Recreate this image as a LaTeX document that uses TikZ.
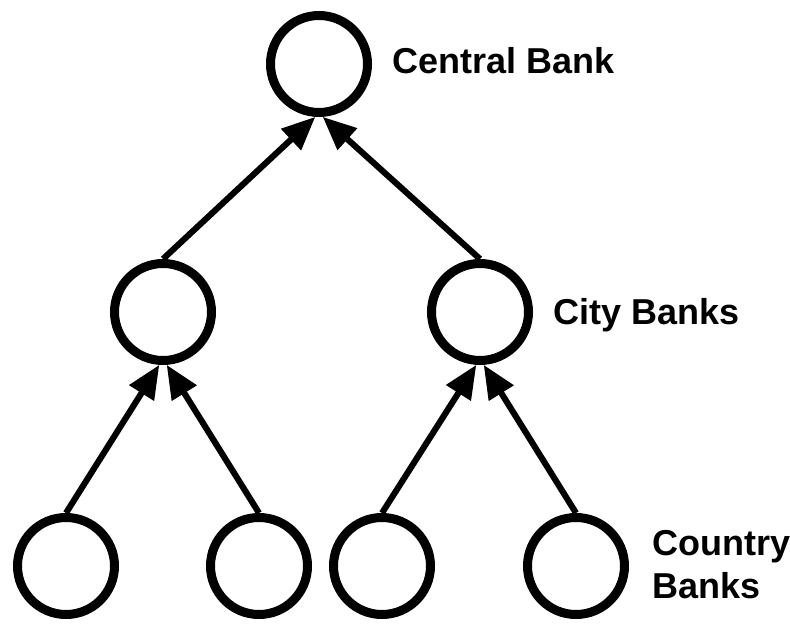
\documentclass[tikz,border=0pt]{standalone}
\usepackage{fontspec}
\setmainfont{Liberation Sans}
\usetikzlibrary{arrows.meta}
\tikzset{
  bank/.style={circle, draw=black, fill=white, line width=6.75pt, minimum size=72.75pt, inner sep=0pt},
  link/.style={line width=4.6pt, -{Triangle[length=25pt,width=21pt]}},
  lbl/.style={font=\fontsize{27pt}{32.25pt}\selectfont\bfseries, inner sep=0pt, anchor=base west, align=left}
}
\begin{document}
\begin{tikzpicture}[x=0.75pt,y=-0.75pt]
\useasboundingbox (0,0) rectangle (790,624);
\node[bank] (top) at (319,64) {};
\node[bank] (cl) at (163,312) {};
\node[bank] (cr) at (480,312) {};
\node[bank] (b1) at (66,566) {};
\node[bank] (b2) at (259,566) {};
\node[bank] (b3) at (382,566) {};
\node[bank] (b4) at (576,566) {};
\draw[link] (cl.north) -- (top.-94);
\draw[link] (cr.north) -- (top.-86);
\draw[link] (b1.north) -- (cl.-94);
\draw[link] (b2.north) -- (cl.-86);
\draw[link] (b3.north) -- (cr.-94);
\draw[link] (b4.north) -- (cr.-86);
\node[lbl] (tcentral) at (392,74) {Central Bank};
\node[lbl] (tcity) at (553,325) {City Banks};
\node[lbl] (tcountry) at (652,598) {Country\\Banks};
\end{tikzpicture}
\end{document}
